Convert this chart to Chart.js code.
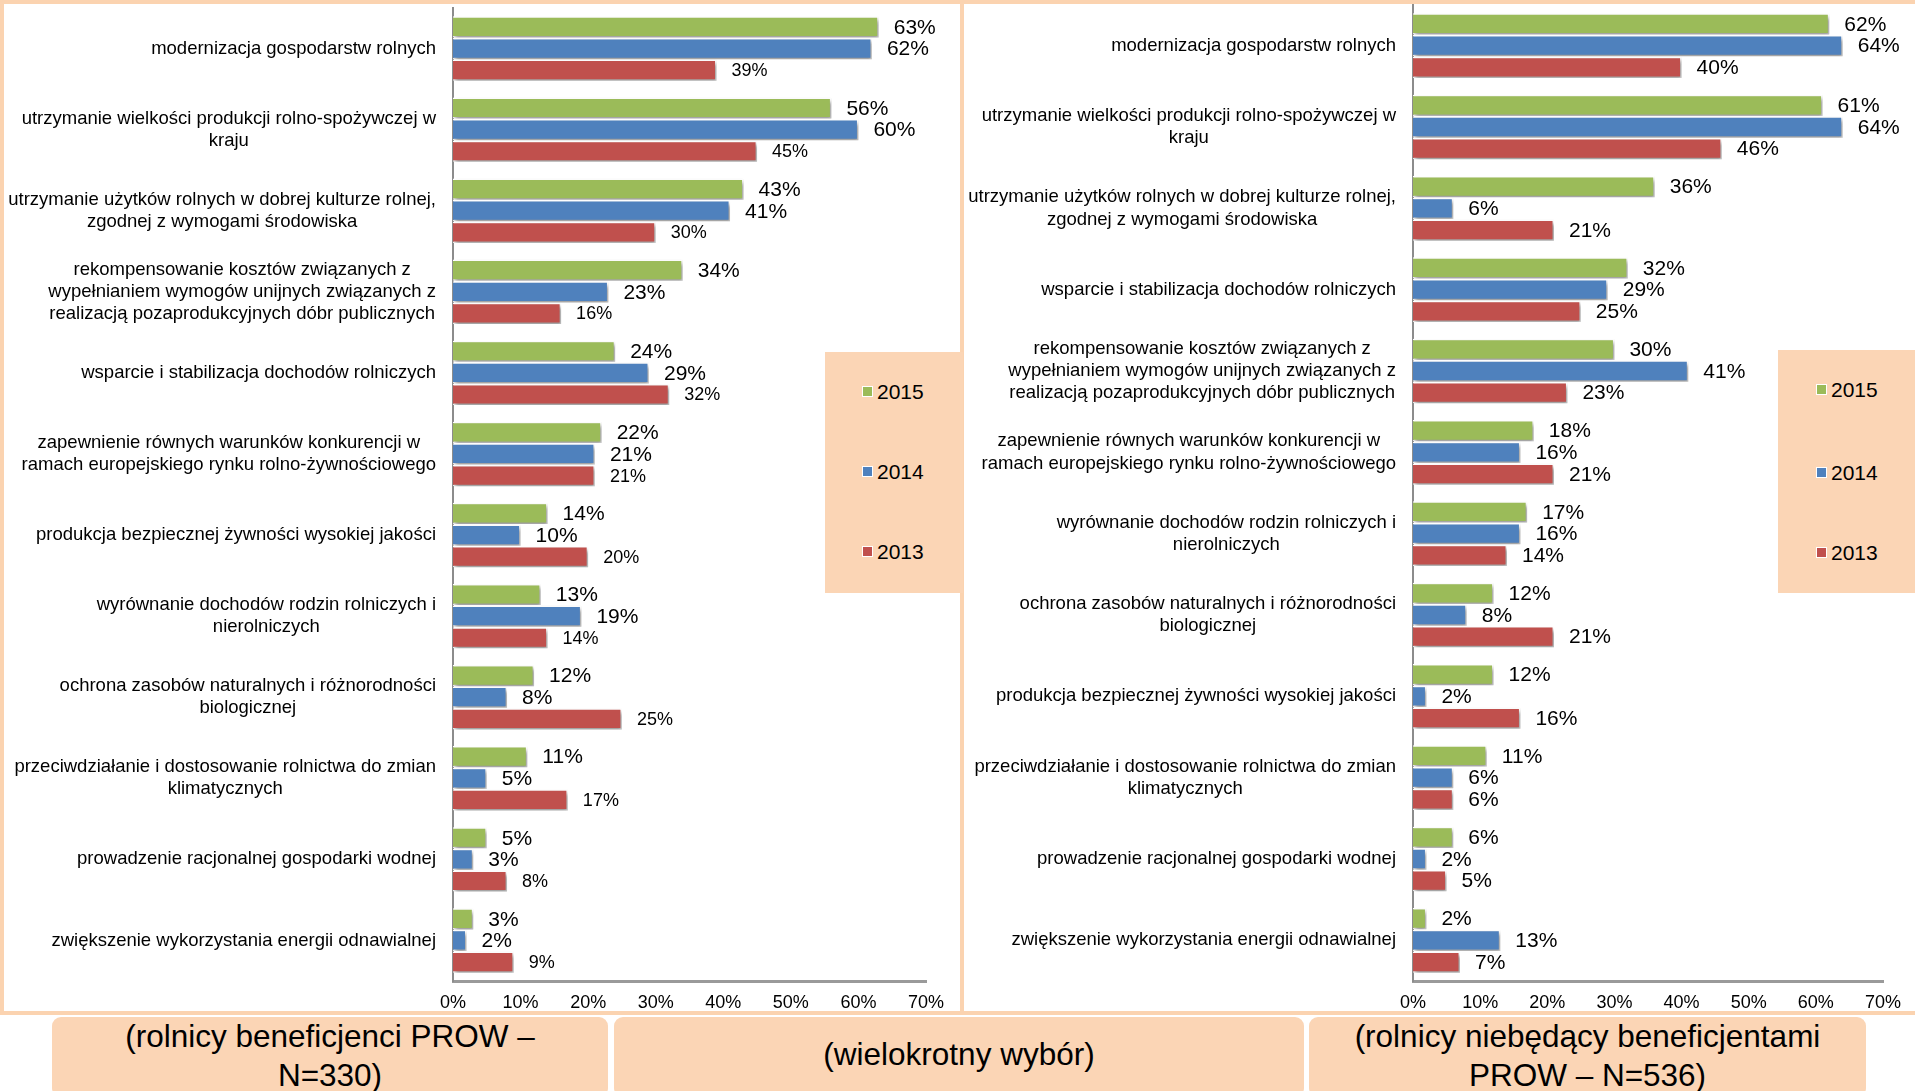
<!DOCTYPE html>
<html>
<head>
<meta charset="utf-8">
<script src="https://cdn.jsdelivr.net/npm/chart.js@4.4.1/dist/chart.umd.min.js"></script>
<style>
  html, body { margin: 0; padding: 0; background: #fff; }
  body { width: 1915px; height: 1091px; overflow: hidden; position: relative; font-family: "Liberation Sans", Arial, sans-serif; }
  .panel { position: absolute; top: 0; height: 1015px; box-sizing: border-box; border: 4px solid #fbd3b0; }
  .wrap { position: absolute; top: 0; height: 1015px; }
  .legend { position: absolute; background: #fbd5b5; }
  .legend .item { position: absolute; font-size: 21px; line-height: 24px; color: #000; }
  .legend .mark { position: absolute; width: 9px; height: 9px; border: 1.5px solid #fff; top: 6px; }
  .legend .txt { position: absolute; white-space: nowrap; }
  .caption { position: absolute; top: 1017px; height: 80px; background: #fbd5b5; border-radius: 9px;
             text-align: center; font-size: 31.5px; line-height: 39px; color: #000; }
</style>
</head>
<body>
<div class="panel" style="left:0; width:964px;"></div>
<div class="panel" style="left:960px; width:959px;"></div>

<div class="wrap" style="left:0; width:962px;"><canvas id="leftChart"></canvas></div>
<div class="wrap" style="left:962px; width:953px;"><canvas id="rightChart"></canvas></div>

<div class="legend" id="legendLeft" style="left:825px; top:352px; width:138px; height:241px;"></div>
<div class="legend" id="legendRight" style="left:1778px; top:350px; width:137px; height:243px;"></div>

<div class="caption" style="left:52px; width:556px;">(rolnicy beneficjenci PROW –<br>N=330)</div>
<div class="caption" style="left:614px; width:690px; line-height:74px;">(wielokrotny wybór)</div>
<div class="caption" style="left:1309px; width:557px;">(rolnicy niebędący beneficjentami<br>PROW – N=536)</div>

<script>
// dane - wykres lewy (beneficjenci PROW)
const labelsLeft = [
  'modernizacja gospodarstw rolnych',
  ['utrzymanie wielkości produkcji rolno-spożywczej w', 'kraju'],
  ['utrzymanie użytków rolnych w dobrej kulturze rolnej,', 'zgodnej z wymogami środowiska'],
  ['rekompensowanie kosztów związanych z', 'wypełnianiem wymogów unijnych związanych z', 'realizacją pozaprodukcyjnych dóbr publicznych'],
  'wsparcie i stabilizacja dochodów rolniczych',
  ['zapewnienie równych warunków konkurencji w', 'ramach europejskiego rynku rolno-żywnościowego'],
  'produkcja bezpiecznej żywności wysokiej jakości',
  ['wyrównanie dochodów rodzin rolniczych i', 'nierolniczych'],
  ['ochrona zasobów naturalnych i różnorodności', 'biologicznej'],
  ['przeciwdziałanie i dostosowanie rolnictwa do zmian', 'klimatycznych'],
  'prowadzenie racjonalnej gospodarki wodnej',
  'zwiększenie wykorzystania energii odnawialnej'
];
const left2015 = [63, 56, 43, 34, 24, 22, 14, 13, 12, 11, 5, 3];
const left2014 = [62, 60, 41, 23, 29, 21, 10, 19, 8, 5, 3, 2];
const left2013 = [39, 45, 30, 16, 32, 21, 20, 14, 25, 17, 8, 9];

// dane - wykres prawy (niebeneficjenci)
const labelsRight = [
  'modernizacja gospodarstw rolnych',
  ['utrzymanie wielkości produkcji rolno-spożywczej w', 'kraju'],
  ['utrzymanie użytków rolnych w dobrej kulturze rolnej,', 'zgodnej z wymogami środowiska'],
  'wsparcie i stabilizacja dochodów rolniczych',
  ['rekompensowanie kosztów związanych z', 'wypełnianiem wymogów unijnych związanych z', 'realizacją pozaprodukcyjnych dóbr publicznych'],
  ['zapewnienie równych warunków konkurencji w', 'ramach europejskiego rynku rolno-żywnościowego'],
  ['wyrównanie dochodów rodzin rolniczych i', 'nierolniczych'],
  ['ochrona zasobów naturalnych i różnorodności', 'biologicznej'],
  'produkcja bezpiecznej żywności wysokiej jakości',
  ['przeciwdziałanie i dostosowanie rolnictwa do zmian', 'klimatycznych'],
  'prowadzenie racjonalnej gospodarki wodnej',
  'zwiększenie wykorzystania energii odnawialnej'
];
const right2015 = [62, 61, 36, 32, 30, 18, 17, 12, 12, 11, 6, 2];
const right2014 = [64, 64, 6, 29, 41, 16, 16, 8, 2, 6, 2, 13];
const right2013 = [40, 46, 21, 25, 23, 21, 14, 21, 16, 6, 5, 7];

const years = ['2015', '2014', '2013'];
const colors = ['#9bbb59', '#4f81bd', '#c0504d'];
const xTicks = [0, 10, 20, 30, 40, 50, 60, 70];

const FONT = '"Liberation Sans", Arial, sans-serif';
const CAT_SIZE = 18.5;
const CAT_LH = 22.2;

// cień pod słupkami + etykiety z wartościami
const barDecor = {
  id: 'barDecor',
  beforeDatasetsDraw(chart) {
    const ctx = chart.ctx;
    ctx.save();
    ctx.shadowColor = 'rgba(0,0,0,0.4)';
    ctx.shadowBlur = 4;
    ctx.shadowOffsetX = 2;
    ctx.shadowOffsetY = 3;
  },
  afterDatasetsDraw(chart, args, opts) {
    const ctx = chart.ctx;
    ctx.restore();
    ctx.save();
    ctx.fillStyle = '#000';
    ctx.textAlign = 'left';
    ctx.textBaseline = 'middle';
    chart.data.datasets.forEach((ds, i) => {
      const meta = chart.getDatasetMeta(i);
      ctx.font = opts.sizes[i] + 'px ' + FONT;
      meta.data.forEach((bar, j) => {
        ctx.fillText(ds.data[j] + '%', bar.x + opts.gap, bar.y + 1);
      });
    });
    ctx.restore();
  }
};

// etykiety kategorii: blok wyrównany do prawej, wiersze wyśrodkowane względem siebie
const catLabels = {
  id: 'catLabels',
  afterDraw(chart) {
    const ctx = chart.ctx;
    const ys = chart.scales.y;
    const rightX = ys.right - 17;
    ctx.save();
    ctx.font = CAT_SIZE + 'px ' + FONT;
    ctx.fillStyle = '#000';
    ctx.textAlign = 'center';
    ctx.textBaseline = 'middle';
    chart.data.labels.forEach((lab, i) => {
      const lines = Array.isArray(lab) ? lab : [lab];
      const w = Math.max(...lines.map(l => ctx.measureText(l).width));
      const cx = rightX - w / 2;
      const cy = ys.getPixelForTick(i);
      const y0 = cy - (lines.length - 1) * CAT_LH / 2;
      lines.forEach((l, k) => ctx.fillText(l, cx, y0 + k * CAT_LH));
    });
    ctx.restore();
  }
};

function makeChart(id, labels, series, cfg) {
  const ctx = document.getElementById(id).getContext('2d');
  return new Chart(ctx, {
    type: 'bar',
    data: {
      labels: labels,
      datasets: series.map((d, i) => ({
        label: years[i],
        data: d,
        backgroundColor: colors[i],
        borderColor: '#ffffff',
        borderWidth: 1.5,
        categoryPercentage: 0.8,
        barPercentage: 0.98
      }))
    },
    options: {
      indexAxis: 'y',
      responsive: true,
      maintainAspectRatio: false,
      animation: false,
      layout: { padding: { top: cfg.top, right: cfg.right, left: 0, bottom: 0 } },
      plugins: {
        legend: { display: false },
        tooltip: { enabled: false },
        barDecor: { sizes: cfg.sizes, gap: 15 }
      },
      scales: {
        x: {
          min: 0, max: 70,
          afterBuildTicks: s => { s.ticks = xTicks.map(v => ({ value: v })); },
          afterFit: s => { s.height = 34; },
          grid: { display: false, drawTicks: false },
          border: { display: true, color: '#9a9a9a', width: 3 },
          ticks: { padding: 11, color: '#000', font: { family: FONT, size: 18 }, callback: v => v + '%' }
        },
        y: {
          afterFit: s => { s.width = cfg.yWidth; s.paddingTop = 0; s.paddingBottom = 0; },
          grid: { display: false, drawTicks: false },
          border: { display: true, color: '#8c8c8c', width: 2 },
          ticks: { display: false, autoSkip: false }
        }
      }
    },
    plugins: [barDecor, catLabels]
  });
}

makeChart('leftChart', labelsLeft, [left2015, left2014, left2013],
  { top: 8, right: 36, yWidth: 453, sizes: [21, 21, 18] });
makeChart('rightChart', labelsRight, [right2015, right2014, right2013],
  { top: 5, right: 32, yWidth: 451, sizes: [21, 21, 21] });

// legendy
function buildLegend(id, markLeft, tops) {
  const box = document.getElementById(id);
  years.forEach((y, i) => {
    const item = document.createElement('div');
    item.className = 'item';
    item.style.top = (tops[i] - 12) + 'px';
    item.style.left = '0px';
    item.innerHTML = `<span class="mark" style="left:${markLeft}px; background:${colors[i]}"></span>` +
                     `<span class="txt" style="left:${markLeft + 15}px">${y}</span>`;
    box.appendChild(item);
  });
}
buildLegend('legendLeft', 37, [40, 120, 200]);
buildLegend('legendRight', 38, [40, 123, 203]);
</script>
</body>
</html>
